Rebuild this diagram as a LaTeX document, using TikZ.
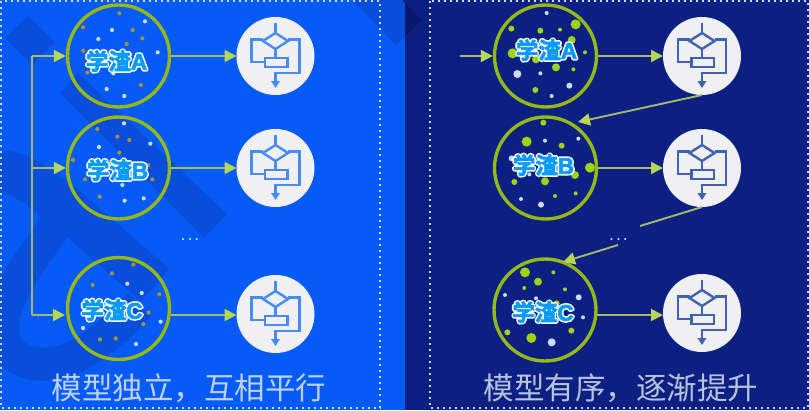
\documentclass[tikz,border=0pt]{standalone}
\usepackage{fontspec}
\usetikzlibrary{arrows.meta}
\setmainfont{Noto Sans CJK SC}
\newfontfamily\cjkbold{Noto Sans CJK SC Bold}
\newfontfamily\latbold{Liberation Sans Bold}
\definecolor{bgblue}{RGB}{6,90,245}
\definecolor{bgnavy}{RGB}{11,32,130}
\definecolor{markblue}{RGB}{9,78,218}
\definecolor{marknavy}{RGB}{9,25,105}
\definecolor{ringgreen}{RGB}{150,184,22}
\definecolor{linkgreen}{RGB}{165,186,105}
\definecolor{headgreen}{RGB}{182,214,84}
\definecolor{dotbrown}{RGB}{165,145,60}
\definecolor{dotpale}{RGB}{205,220,245}
\definecolor{dotgreen}{RGB}{160,210,20}
\definecolor{disc}{RGB}{240,240,242}
\definecolor{iconlight}{RGB}{70,140,245}
\definecolor{icondark}{RGB}{65,98,172}
\definecolor{lblblue}{RGB}{10,155,248}
\definecolor{capleft}{RGB}{190,208,245}
\definecolor{capright}{RGB}{185,195,222}
\definecolor{borderdot}{RGB}{205,218,242}
\newcommand{\dregs}[1]{\fontsize{22.5pt}{25pt}\selectfont
  \makebox[0pt][l]{\color{white}\special{pdf:code 2 Tr 3.8 w 1 j}\cjkbold 学渣\latbold #1\special{pdf:code 0 Tr 1 w 0 j}}%
  {\color{lblblue}\special{pdf:code 2 Tr 0.7 w}\cjkbold 学渣\latbold #1\special{pdf:code 0 Tr 1 w}}}
\newcommand{\flowicon}[2]{%
  \begin{scope}[shift={(#1.center)},draw=#2,line width=2.4pt]
    \draw (0,-33) -- (0,-23);
    \draw (0,-23) -- (12.5,-15) -- (0,-7) -- (-12.5,-15) -- cycle;
    \draw (0,-7) -- (0,2);
    \draw (-12.5,-16.7) -- (-24,-16.7) -- (-24,5.7) -- (-10.5,5.7);
    \draw (12.5,-16.7) -- (24,-16.7) -- (24,17) -- (0,17) -- (0,27);
    \fill[#2] (-4.5,25) -- (4.5,25) -- (0,32) -- cycle;
    \draw (-10.5,2) rectangle (12,11);
  \end{scope}}
\tikzset{
  x=1pt,y=-1pt,
  ringnode/.style={circle,draw=ringgreen,line width=3.4pt,minimum size=102pt,inner sep=0pt,outer sep=1.7pt},
  discnode/.style={circle,fill=disc,minimum size=78pt,inner sep=0pt,outer sep=0pt},
  link/.style={draw=linkgreen,line width=1.9pt,-{Triangle[length=12pt,width=12pt,color=headgreen]}},
  plainlink/.style={draw=linkgreen,line width=1.9pt},
  caption/.style={font=\fontsize{30.5pt}{32pt}\selectfont,inner sep=0pt},
  ellipsis/.style={font=\fontsize{16pt}{17pt}\selectfont,inner sep=0pt,text=dotpale},
  dustlabel/.style={inner sep=0pt},
  borderline/.style={draw=borderdot,line width=2pt,dash pattern=on 2pt off 4pt},
}
\begin{document}
\begin{tikzpicture}
\useasboundingbox (0,0) rectangle (809,410);
% backgrounds
\fill[bgblue] (0,0) rectangle (405,410);
\fill[bgnavy] (405,0) rectangle (809,410);
% watermark
\fill[markblue] (28,16) -- (55,42) -- (32,65) -- (5,38) -- cycle;
\fill[markblue] (78,73) -- (227,214) -- (204,238) -- (60,93) -- cycle;
\fill[markblue] (352,0) -- (396,45) -- (405,36) -- (405,0) -- cycle;
\fill[marknavy] (405,0) -- (405,36) -- (422,20) -- (402,0) -- cycle;
\draw[markblue,line width=43pt] (0,172) .. controls (22,172) and (40,188) .. (63,205) -- (155,285);
\draw[markblue,line width=33pt] (62,215) .. controls (40,250) and (8,285) .. (3,320)
   .. controls (-2,355) and (25,366) .. (48,364)
   .. controls (80,362) and (110,335) .. (140,305);
\draw[borderline] (1,1) rectangle (380,408);
\draw[borderline] (430,1) rectangle (808,408);
% dust, left
\foreach \x/\y in {358/40,249/82,398/90,427/115,380/132,250/152,262/218,423/255,292/387,352/410,388/420,358/458,219/480,445/495,255/538,457/538,299/590}
  \fill[dotbrown] ({\x/3},{\y/3}) circle (2.1pt);
\foreach \x/\y in {435/64,336/90,295/117,473/157,340/220,320/267,373/288,372/370,297/441,451/431,367/555,374/602,431/595}
  \fill[dotpale] ({\x/3},{\y/3}) circle (2.1pt);
\foreach \x/\y in {400/194,336/220,278/255,478/283,446/338,430/372,347/415,300/418}
  \fill[dotbrown] ({\x/3},{200+\y/3}) circle (2.1pt);
\foreach \x/\y in {382/251,425/279,482/365,249/384,408/432}
  \fill[dotpale] ({\x/3},{200+\y/3}) circle (2.1pt);
% dust, right
\foreach \x/\y/\r in {437/73/5,244/86/3,331/92/3,390/89/2,425/120/4,248/160/5,318/178/4,378/202/4,430/208/2,465/157/2,316/270/3,340/368/3,290/425/5,395/437/3,480/503/5,435/525/4,345/544/4,253/546/3,375/588/2,437/580/2}
  \fill[dotgreen] ({430+\x/3},{\y/3}) circle (\r pt);
\foreach \x/\y/\r in {350/39/2,262/222/4,331/220/2,418/257/3,365/288/2,445/416/2,345/422/2,245/475/3,298/523/2,273/597/2,333/614/3}
  \fill[dotpale] ({430+\x/3},{\y/3}) circle (\r pt);
\foreach \x/\y/\r in {375/217/5,414/245/4,460/217/2,373/264/2,495/268/2,322/397/3,514/392/3,394/414/5,470/310/3}
  \fill[dotgreen] ({400+\x/3},{200+\y/3}) circle (\r pt);
\foreach \x/\y/\r in {315/285/2,536/292/3,408/295/2,549/352/2,455/427/4}
  \fill[dotpale] ({400+\x/3},{200+\y/3}) circle (\r pt);
% rings
\node[ringnode] (la) at (118.5,56) {};
\node[ringnode] (lb) at (118.5,168) {};
\node[ringnode] (lc) at (118.5,308.5) {};
\node[ringnode] (ra) at (545.5,56) {};
\node[ringnode] (rb) at (545.5,168) {};
\node[ringnode] (rc) at (545,310) {};
% discs
\node[discnode] (fa) at (275.5,56) {};
\node[discnode] (fb) at (275.5,168) {};
\node[discnode] (fc) at (275.5,314) {};
\node[discnode] (ga) at (702,56) {};
\node[discnode] (gb) at (702,168) {};
\node[discnode] (gc) at (702,313) {};
\flowicon{fa}{iconlight}
\flowicon{fb}{iconlight}
\flowicon{fc}{iconlight}
\flowicon{ga}{icondark}
\flowicon{gb}{icondark}
\flowicon{gc}{icondark}
% connectors
\coordinate (bustop) at (32,56);
\coordinate (busmid) at (32,168);
\coordinate (busbot) at (32,315);
\coordinate (lcin) at (65,315);
\coordinate (lcout) at (171,315);
\coordinate (rcout) at (597,315);
\coordinate (rstart) at (460,56);
\coordinate (dinend) at (578,122);
\coordinate (gapa) at (640,226);
\coordinate (gapb) at (618,245);
\coordinate (rcin) at (563,262);
\draw[plainlink] (bustop) -- (busbot);
\draw[link] (bustop) -- (la);
\draw[link] (busmid) -- (lb);
\draw[link] (busbot) -- (lcin);
\draw[link] (la) -- (fa);
\draw[link] (lb) -- (fb);
\draw[link] (lcout) -- (fc.west |- lcout);
\draw[link] (rstart) -- (ra);
\draw[link] (ra) -- (ga);
\draw[link] (rb) -- (gb);
\draw[link] (rcout) -- (gc.west |- rcout);
\draw[link] (ga.south) -- (dinend);
\draw[plainlink] (gb.south) -- (gapa);
\draw[link] (gapb) -- (rcin);
% labels
\node[dustlabel] (tla) at (116.5,61) {\dregs{A}};
\node[dustlabel] (tlb) at (117.5,170) {\dregs{B}};
\node[dustlabel] (tlc) at (112,310) {\dregs{C}};
\node[dustlabel] (tra) at (546.5,50) {\dregs{A}};
\node[dustlabel] (trb) at (543.5,165) {\dregs{B}};
\node[dustlabel] (trc) at (543,312) {\dregs{C}};
\node[ellipsis] (dl) at (190,240) {.\kern2.5pt.\kern2.5pt.};
\node[ellipsis] (dr) at (618.5,240) {.\kern2.5pt.\kern2.5pt.};
\node[caption,text=capleft] (capl) at (189,388) {模型独立，互相平行};
\node[caption,text=capright] (capr) at (621,388) {模型有序，逐渐提升};
\end{tikzpicture}
\end{document}
